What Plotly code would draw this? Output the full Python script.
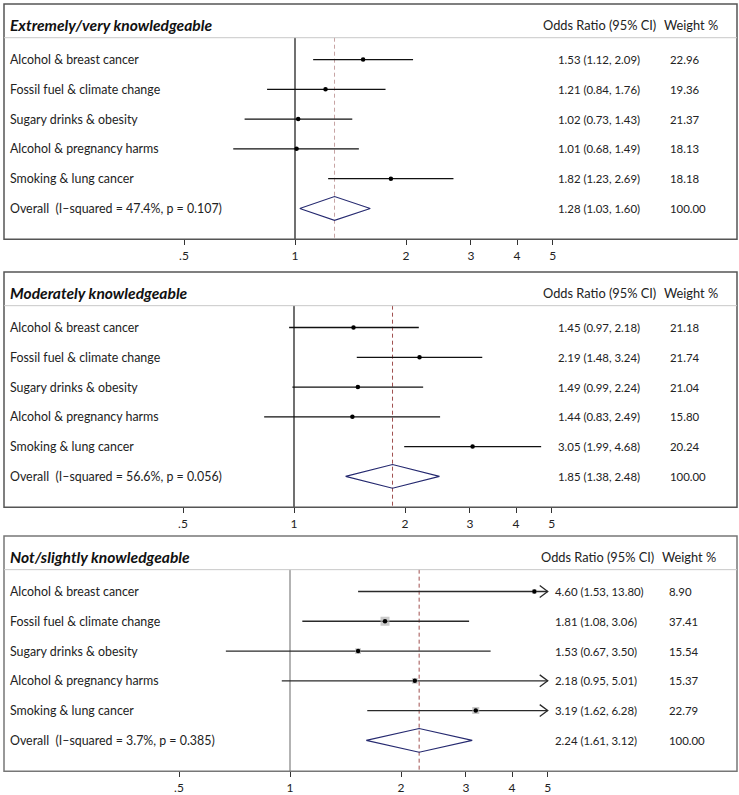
import math
import plotly.graph_objects as go

W, H = 739, 795

# ---------------- data ----------------
labels = ["Alcohol & breast cancer", "Fossil fuel & climate change",
          "Sugary drinks & obesity", "Alcohol & pregnancy harms",
          "Smoking & lung cancer"]
panel_titles = ["Extremely/very knowledgeable", "Moderately knowledgeable",
                "Not/slightly knowledgeable"]

est1 = [1.53, 1.21, 1.02, 1.01, 1.82]
lo1 = [1.12, 0.84, 0.73, 0.68, 1.23]
hi1 = [2.09, 1.76, 1.43, 1.49, 2.69]
wt1 = [22.96, 19.36, 21.37, 18.13, 18.18]
ov1 = [1.28, 1.03, 1.60]
het1 = [47.4, 0.107]

est2 = [1.45, 2.19, 1.49, 1.44, 3.05]
lo2 = [0.97, 1.48, 0.99, 0.83, 1.99]
hi2 = [2.18, 3.24, 2.24, 2.49, 4.68]
wt2 = [21.18, 21.74, 21.04, 15.80, 20.24]
ov2 = [1.85, 1.38, 2.48]
het2 = [56.6, 0.056]

est3 = [4.60, 1.81, 1.53, 2.18, 3.19]
lo3 = [1.53, 1.08, 0.67, 0.95, 1.62]
hi3 = [13.80, 3.06, 3.50, 5.01, 6.28]
wt3 = [8.90, 37.41, 15.54, 15.37, 22.79]
ov3 = [2.24, 1.61, 3.12]
het3 = [3.7, 0.385]

tick_vals = [0.5, 1, 2, 3, 4, 5]
tick_text = [".5", "1", "2", "3", "4", "5"]
axis_max = 5.0

panels = [
    dict(title=panel_titles[0], est=est1, lo=lo1, hi=hi1, wt=wt1, ov=ov1, het=het1),
    dict(title=panel_titles[1], est=est2, lo=lo2, hi=hi2, wt=wt2, ov=ov2, het=het2),
    dict(title=panel_titles[2], est=est3, lo=lo3, hi=hi3, wt=wt3, ov=ov3, het=het3),
]

# ---------------- style / layout ----------------
FONT = "Lato"
tops = [4, 274, 540]
box_h = 237
one_px = [295, 294, 290]
px_per_doubling = 111.0
left_px, right_px = 4, 737
sep_y = 34
row0, row_step = 56, 30
diamond_half = 12
line_cols = ["#111111", "#111111", "#2a2a2a"]
ref_cols = ["#111111", "#111111", "#808080"]
dash_cols = ["#c7a3a3", "#a0504f", "#a0504f"]
box_cols = ["#555555", "#555555", "#777777"]
show_boxes = [False, False, True]
or_x = [556, 556, 553]
wt_x = [668, 668, 667]
hd_x = [541, 541, 539]
hw_x = [662, 662, 660]
navy = "#262a70"
LABEL_SIZE = 12.4
NUM_SIZE = 11.4
HEAD_SIZE = 12.8
TITLE_SIZE = 15.6

fig = go.Figure()
annotations = []
shapes = []


def fmt(e, l, h):
    return f"{e:.2f} ({l:.2f}, {h:.2f})"


for k, p in enumerate(panels, start=1):
    xa = "x" if k == 1 else f"x{k}"
    ya = "y" if k == 1 else f"y{k}"
    top = tops[k - 1]
    lo_edge = 2 ** ((left_px - one_px[k - 1]) / px_per_doubling)
    hi_edge = 2 ** ((right_px - one_px[k - 1]) / px_per_doubling)
    lc = line_cols[k - 1]

    xkey = "xaxis" if k == 1 else f"xaxis{k}"
    ykey = "yaxis" if k == 1 else f"yaxis{k}"
    fig.layout[xkey] = dict(
        type="log", domain=[left_px / W, right_px / W],
        range=[math.log10(lo_edge), math.log10(hi_edge)],
        anchor=ya, tickvals=tick_vals, ticktext=tick_text,
        ticks="outside", ticklen=5, tickcolor="#333", tickwidth=1,
        tickfont=dict(family=FONT, size=12, color="#222"),
        showgrid=False, zeroline=False, showline=False, fixedrange=True,
    )
    fig.layout[ykey] = dict(
        domain=[1 - (top + box_h) / H, 1 - top / H], range=[box_h, 0],
        anchor=xa, visible=False, showgrid=False, zeroline=False, fixedrange=True,
    )

    rows = [row0 + row_step * i for i in range(len(labels))]
    drow = row0 + row_step * len(labels)

    # reference line at 1 and dashed overall line
    fig.add_trace(go.Scatter(x=[1, 1], y=[sep_y, box_h], mode="lines",
                             line=dict(color=ref_cols[k - 1], width=1.2),
                             xaxis=xa, yaxis=ya, hoverinfo="skip"))
    fig.add_trace(go.Scatter(x=[p["ov"][0], p["ov"][0]], y=[sep_y, box_h], mode="lines",
                             line=dict(color=dash_cols[k - 1], width=1, dash="4px,3px"),
                             xaxis=xa, yaxis=ya, hoverinfo="skip"))

    # confidence intervals
    for i, r in enumerate(rows):
        hi_c = min(p["hi"][i], axis_max)
        fig.add_trace(go.Scatter(x=[p["lo"][i], hi_c], y=[r, r], mode="lines",
                                 line=dict(color=lc, width=1.3),
                                 xaxis=xa, yaxis=ya, hoverinfo="skip"))
        if p["hi"][i] > axis_max:
            back = axis_max / 2 ** (8 / px_per_doubling)
            fig.add_trace(go.Scatter(x=[back, axis_max, back], y=[r - 6, r, r + 6],
                                     mode="lines", line=dict(color=lc, width=1.3),
                                     xaxis=xa, yaxis=ya, hoverinfo="skip"))

    # weight boxes
    if show_boxes[k - 1]:
        wmax = max(p["wt"])
        sizes = [9 * math.sqrt(w / wmax) for w in p["wt"]]
        fig.add_trace(go.Scatter(x=p["est"], y=rows, mode="markers",
                                 marker=dict(symbol="square", size=sizes, color="#b3b3b3",
                                             line=dict(width=0)),
                                 xaxis=xa, yaxis=ya, hoverinfo="skip"))
    # point estimates
    fig.add_trace(go.Scatter(x=p["est"], y=rows, mode="markers",
                             marker=dict(symbol="circle", size=4.5, color="#000"),
                             xaxis=xa, yaxis=ya, hoverinfo="skip"))

    # overall diamond
    e, l, h = p["ov"]
    fig.add_trace(go.Scatter(x=[l, e, h, e, l],
                             y=[drow, drow - diamond_half, drow, drow + diamond_half, drow],
                             mode="lines", line=dict(color=navy, width=1.1),
                             xaxis=xa, yaxis=ya, hoverinfo="skip"))

    # frame and header separator
    shapes.append(dict(type="rect", xref=f"{xa} domain", yref=f"{ya} domain",
                       x0=0, x1=1, y0=0, y1=1, line=dict(color=box_cols[k - 1], width=1.5)))
    shapes.append(dict(type="line", xref=f"{xa} domain", yref=ya,
                       x0=0, x1=1, y0=sep_y, y1=sep_y,
                       line=dict(color="#c8c8c8", width=1)))

    # texts
    annotations.append(dict(text=f"<b><i>{p['title']}</i></b>", x=8 / W, xref="paper",
                            y=21, yref=ya, xanchor="left", yanchor="middle",
                            showarrow=False, font=dict(family=FONT, size=TITLE_SIZE, color="#111")))
    annotations.append(dict(text="Odds Ratio (95% CI)", x=hd_x[k - 1] / W, xref="paper",
                            y=21, yref=ya, xanchor="left", yanchor="middle",
                            showarrow=False, font=dict(family=FONT, size=HEAD_SIZE, color="#222")))
    annotations.append(dict(text="Weight %", x=hw_x[k - 1] / W, xref="paper",
                            y=21, yref=ya, xanchor="left", yanchor="middle",
                            showarrow=False, font=dict(family=FONT, size=HEAD_SIZE, color="#222")))
    row_labels = labels + [f"Overall  (I\u2013squared = {p['het'][0]:.1f}%, p = {p['het'][1]:.3f})"]
    or_texts = [fmt(p["est"][i], p["lo"][i], p["hi"][i]) for i in range(len(labels))] + [fmt(e, l, h)]
    w_texts = [f"{w:.2f}" for w in p["wt"]] + ["100.00"]
    for lab, ort, wtx, r in zip(row_labels, or_texts, w_texts, rows + [drow]):
        annotations.append(dict(text=lab, x=8 / W, xref="paper", y=r, yref=ya,
                                xanchor="left", yanchor="middle", showarrow=False,
                                font=dict(family=FONT, size=LABEL_SIZE, color="#222")))
        annotations.append(dict(text=ort, x=or_x[k - 1] / W, xref="paper", y=r, yref=ya,
                                xanchor="left", yanchor="middle", showarrow=False,
                                font=dict(family=FONT, size=NUM_SIZE, color="#222")))
        annotations.append(dict(text=wtx, x=wt_x[k - 1] / W, xref="paper", y=r, yref=ya,
                                xanchor="left", yanchor="middle", showarrow=False,
                                font=dict(family=FONT, size=NUM_SIZE, color="#222")))

fig.update_layout(
    width=W, height=H, margin=dict(l=0, r=0, t=0, b=0),
    paper_bgcolor="white", plot_bgcolor="white", showlegend=False,
    annotations=annotations, shapes=shapes,
    font=dict(family=FONT, size=13, color="#222"),
)

fig.write_html("out.html", config={"displayModeBar": False},
               post_script="document.body.style.margin='0';document.body.style.overflow='hidden';")
